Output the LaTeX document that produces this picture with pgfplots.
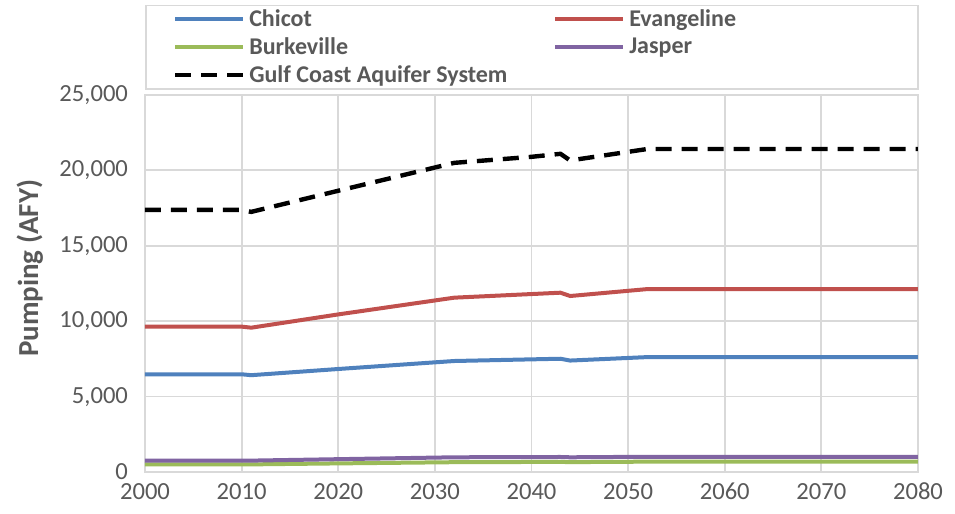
\documentclass[border=0pt]{standalone}
\usepackage{fontspec}
\setmainfont{Carlito}
\usepackage{pgfplots}
\pgfplotsset{compat=1.18}

\definecolor{chicot}{HTML}{4F81BD}
\definecolor{evang}{HTML}{C0504D}
\definecolor{burke}{HTML}{9BBB59}
\definecolor{jasper}{HTML}{8064A2}
\definecolor{txt}{HTML}{595959}
\definecolor{gridc}{HTML}{D9D9D9}

\begin{document}
\begin{tikzpicture}
\useasboundingbox (-72.5pt,-21pt) rectangle (405pt,236pt);
\begin{axis}[
  scale only axis,
  width=386.5pt, height=188.5pt,
  xmin=2000, xmax=2080, ymin=0, ymax=25000,
  xtick={2000,2010,...,2080},
  ytick={0,5000,...,25000},
  scaled y ticks=false,
  grid=major,
  major grid style={gridc, line width=0.9pt},
  axis line style={gridc, line width=0.9pt},
  major tick length=0pt,
  tick label style={font=\fontsize{12.3}{14}\selectfont, text=txt},
  /pgf/number format/assume math mode=true,
  x tick label style={/pgf/number format/1000 sep=, yshift=-2pt},
  y tick label style={/pgf/number format/1000 sep={,}, xshift=-5pt},
  ylabel={Pumping (AFY)},
  ylabel style={font=\fontsize{14.5}{16}\selectfont\bfseries, text=txt,
    at={(axis description cs:-0.149,0.54)}, anchor=center},
  legend columns=2,
  legend cell align=left,
  legend style={at={(0,1)}, anchor=south west, yshift=2.5pt,
    draw=gridc, line width=0.9pt, inner xsep=13.5pt, inner ysep=0pt,
    font=\fontsize{12}{14}\selectfont\bfseries, text=txt,
    /tikz/every even column/.append style={column sep=0pt},
    /tikz/every odd column/.append style={column sep=0pt}},
  legend image code/.code={\draw[#1] (0pt,0pt) -- (34pt,0pt);},
]
\addplot[chicot, line width=2pt] coordinates {
  (2000,6480) (2010,6480) (2011,6420) (2020,6830) (2032,7360)
  (2040,7470) (2043,7510) (2044,7390) (2052,7620) (2080,7620)};
\addplot[evang, line width=2pt] coordinates {
  (2000,9640) (2010,9640) (2011,9570) (2020,10450) (2032,11560)
  (2040,11800) (2043,11890) (2044,11670) (2052,12130) (2080,12130)};
\addplot[burke, line width=2pt] coordinates {
  (2000,510) (2010,510) (2011,505) (2020,570) (2032,650)
  (2040,665) (2043,670) (2044,655) (2052,685) (2080,685)};
\addplot[jasper, line width=2pt] coordinates {
  (2000,760) (2010,760) (2011,755) (2020,850) (2032,975)
  (2040,990) (2043,995) (2044,975) (2052,1010) (2080,1010)};
\addplot[black, line width=2.2pt, dash pattern=on 8pt off 5pt] coordinates {
  (2000,17380) (2010,17380) (2011,17250) (2020,18650) (2032,20500)
  (2040,20900) (2043,21100) (2044,20660) (2052,21420) (2080,21420)};
\legend{\makebox[150pt][l]{Chicot}, \makebox[129pt][l]{Evangeline},
  \makebox[150pt][l]{Burkeville}, \makebox[129pt][l]{Jasper},
  \makebox[150pt][l]{Gulf Coast Aquifer System}}
\end{axis}
\end{tikzpicture}
\end{document}
